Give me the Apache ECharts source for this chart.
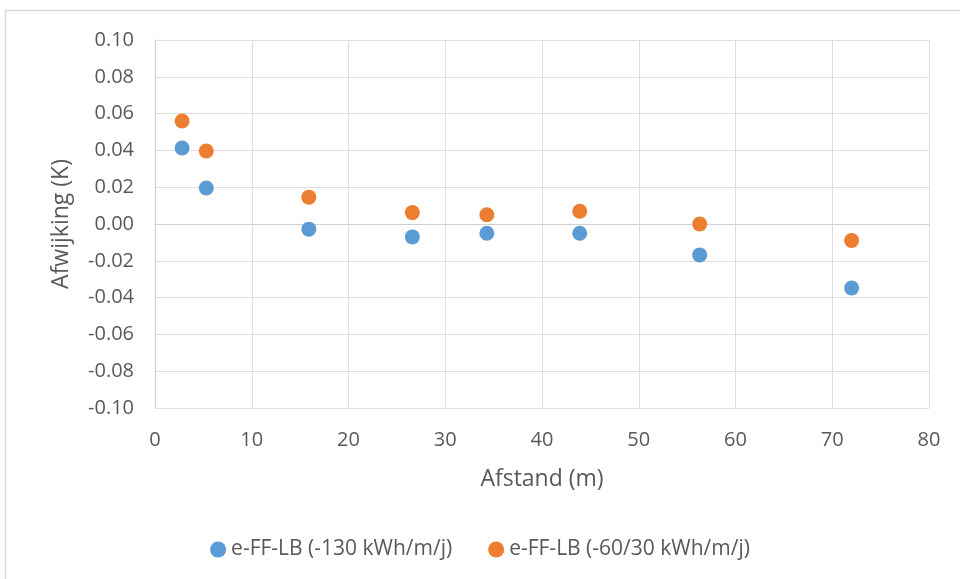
<!DOCTYPE html>
<html><head><meta charset="utf-8">
<script src="https://cdn.jsdelivr.net/npm/echarts@6/dist/echarts.min.js"></script>
<style>html,body{margin:0;padding:0;background:#fff}#c{width:960px;height:579px}</style>
</head><body><div id="c"></div>
<script>
const seriesNames = ['e-FF-LB (-130 kWh/m/j)', 'e-FF-LB (-60/30 kWh/m/j)'];
const distances = [2.8, 5.3, 15.9, 26.6, 34.3, 43.9, 56.3, 72.0];
const blueValues = [0.0413, 0.0196, -0.0028, -0.0070, -0.0050, -0.0050, -0.0168, -0.0348];
const orangeValues = [0.0560, 0.0397, 0.0146, 0.0062, 0.0050, 0.0069, 0.0000, -0.0090];
const yTitle = 'Afwijking (K)';
const xTitle = 'Afstand (m)';

const font = 'Open Sans, Liberation Sans, sans-serif';
const txt = '#595959';
const chart = echarts.init(document.getElementById('c'));
chart.setOption({
  animation: false,
  backgroundColor: '#fff',
  graphic: [{type:'rect', shape:{x:5.5,y:10.5,width:1000,height:1000}, style:{fill:'none', stroke:'#d9d9d9', lineWidth:1.5}, silent:true}],
  grid: {left:155, right:31, top:40, bottom:171},
  legend: {
    bottom: 14, left: 'center', itemWidth: 16, itemHeight: 16, itemGap: 36,
    icon: 'circle',
    textStyle: {fontFamily: font, fontSize: 21, color: txt},
    data: seriesNames
  },
  xAxis: {
    type: 'value', min: 0, max: 80, interval: 10,
    name: xTitle, nameLocation: 'middle', nameGap: 60,
    nameTextStyle: {fontFamily: font, fontSize: 23, color: txt},
    axisLine: {show: true, lineStyle: {color: '#d0d0d0', width: 1}},
    axisTick: {show: false},
    axisLabel: {fontFamily: font, fontSize: 20, color: txt, margin: 22},
    splitLine: {show: true, lineStyle: {color: '#dedede'}}
  },
  yAxis: {
    type: 'value', min: -0.1, max: 0.1, interval: 0.02,
    name: yTitle, nameLocation: 'middle', nameGap: 82,
    nameTextStyle: {fontFamily: font, fontSize: 23, color: txt},
    axisLine: {show: true, lineStyle: {color: '#d0d0d0', width: 1}},
    axisTick: {show: false},
    axisLabel: {fontFamily: font, fontSize: 20, color: txt, margin: 21, formatter: v => v.toFixed(2)},
    splitLine: {show: true, lineStyle: {color: '#dedede'}}
  },
  series: [
    {name: seriesNames[0], type: 'scatter', symbolSize: 15, itemStyle: {color: '#5B9BD5', opacity: 1},
     data: distances.map((d, i) => [d, blueValues[i]])},
    {name: seriesNames[1], type: 'scatter', symbolSize: 15, itemStyle: {color: '#ED7D31', opacity: 1},
     data: distances.map((d, i) => [d, orangeValues[i]])}
  ]
});
</script></body></html>
